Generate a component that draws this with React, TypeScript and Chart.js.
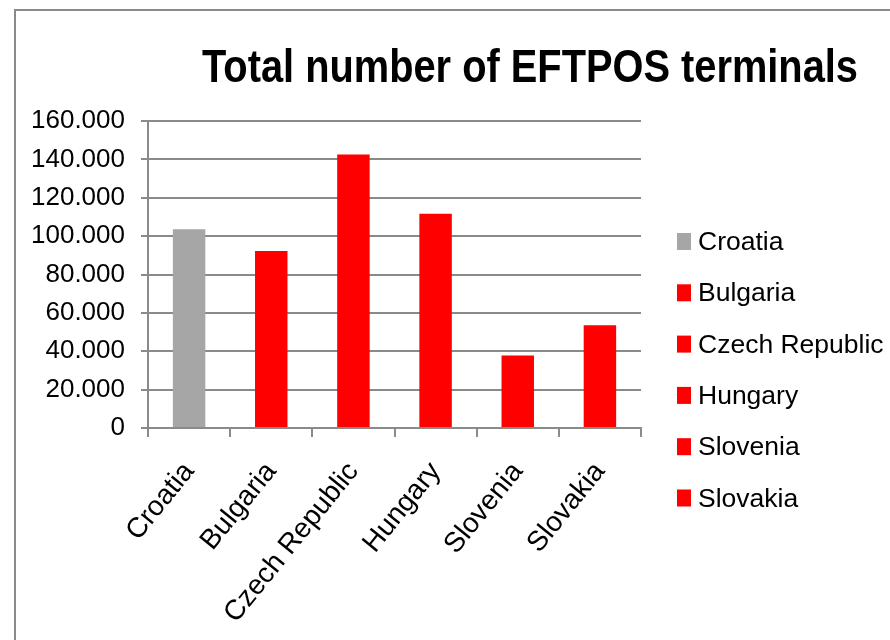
import { useEffect, useRef } from 'react';
import { Chart, registerables } from 'chart.js';

Chart.register(...registerables);

const categories = ['Croatia', 'Bulgaria', 'Czech Republic', 'Hungary', 'Slovenia', 'Slovakia'];
const terminals = [103600, 92300, 142600, 111700, 37800, 53500];
const barColors = ['#a6a6a6', '#ff0000', '#ff0000', '#ff0000', '#ff0000', '#ff0000'];
const yMin = 0;
const yMax = 160000;
const yStep = 20000;
const titleText = 'Total number of EFTPOS terminals';

const GRID = '#8a8a8a';
const FONT = '"Liberation Sans", Arial, sans-serif';

const formatTick = (v: number) => (v === 0 ? '0' : `${Math.round(v / 1000)}.000`);

const decorPlugin = {
  id: 'decor',
  afterDraw(chart: any) {
    const ctx = chart.ctx as CanvasRenderingContext2D;
    ctx.save();
    // outer frame (cropped chart border)
    ctx.strokeStyle = GRID;
    ctx.lineWidth = 2;
    ctx.beginPath();
    ctx.moveTo(15, 640);
    ctx.lineTo(15, 10);
    ctx.lineTo(890, 10);
    ctx.stroke();

    // title
    ctx.fillStyle = '#000';
    ctx.font = 'bold 47px "Liberation Sans Narrow", "Liberation Sans", Arial, sans-serif';
    ctx.textBaseline = 'alphabetic';
    ctx.textAlign = 'center';
    const w = ctx.measureText(titleText).width;
    const target = 656;
    const sx = Math.abs(w - target) > 15 ? target / w : 1;
    ctx.save();
    ctx.translate(530, 82);
    ctx.scale(sx, 1);
    ctx.fillText(titleText, 0, 0);
    ctx.restore();

    // legend
    const labels = chart.data.labels as string[];
    const colors = chart.data.datasets[0].backgroundColor as string[];
    ctx.font = `26.5px ${FONT}`;
    ctx.textAlign = 'left';
    labels.forEach((lab, i) => {
      const base = 250 + i * 51.3;
      ctx.fillStyle = colors[i];
      ctx.fillRect(677, base - 17, 14, 17);
      ctx.fillStyle = '#000';
      ctx.fillText(lab, 698, base);
    });
    ctx.restore();
  },
};

export default function App() {
  const ref = useRef<HTMLCanvasElement | null>(null);
  useEffect(() => {
    if (!ref.current) return;
    const chart = new Chart(ref.current, {
      type: 'bar',
      data: {
        labels: categories,
        datasets: [
          {
            label: 'EFTPOS terminals',
            data: terminals,
            backgroundColor: barColors,
            borderWidth: 0,
            categoryPercentage: 1,
            barPercentage: 0.395,
          },
        ],
      },
      options: {
        responsive: false,
        animation: false,
        devicePixelRatio: 1,
        layout: { padding: { top: 121, right: 249, bottom: 0, left: 0 } },
        plugins: {
          legend: { display: false },
          title: { display: false },
          tooltip: { enabled: false },
        },
        scales: {
          x: {
            grid: {
              offset: true,
              drawOnChartArea: false,
              drawTicks: true,
              tickLength: 9,
              color: GRID,
              lineWidth: 2,
            },
            border: { color: GRID, width: 2 },
            ticks: {
              color: '#000',
              font: { family: FONT, size: 28 },
              maxRotation: 51,
              minRotation: 51,
              padding: 19,
              autoSkip: false,
            },
            afterFit: (s: any) => {
              s.height = 212;
            },
          },
          y: {
            min: yMin,
            max: yMax,
            grid: {
              color: GRID,
              lineWidth: 2,
              tickLength: 7,
              drawTicks: true,
            },
            border: { color: GRID, width: 2 },
            ticks: {
              stepSize: yStep,
              color: '#000',
              font: { family: FONT, size: 26 },
              padding: 16,
              callback: (v: any) => formatTick(Number(v)),
            },
            afterFit: (s: any) => {
              s.width = 148;
            },
          },
        },
      },
      plugins: [decorPlugin],
    });
    return () => chart.destroy();
  }, []);
  return (
    <div style={{ position: 'absolute', left: 0, top: 0, width: 890, height: 640, background: '#fff' }}>
      <canvas ref={ref} width={890} height={640} style={{ display: 'block', width: 890, height: 640 }} />
    </div>
  );
}
